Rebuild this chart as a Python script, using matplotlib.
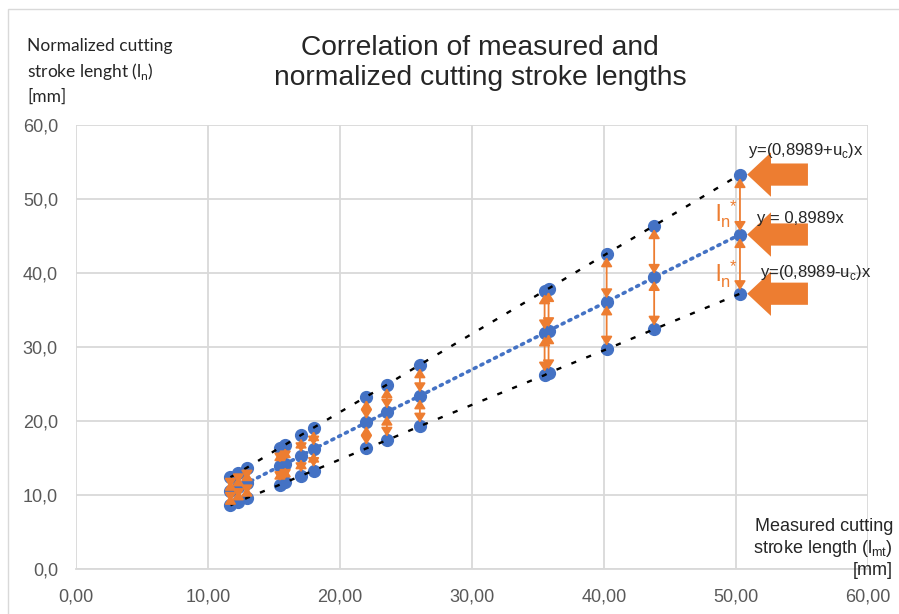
import matplotlib
matplotlib.use('Agg')
import matplotlib.pyplot as plt
from matplotlib.patches import Polygon, Rectangle
from matplotlib.ticker import FuncFormatter

# measured stroke length (x) and the three series
measured = [11.7, 12.3, 12.95, 15.45, 15.85, 17.05, 18.0, 22.0, 23.55, 26.05,
            35.5, 35.8, 40.2, 43.8, 50.3]
upper = [12.4, 13.0, 13.7, 16.4, 16.8, 18.1, 19.1, 23.3, 24.9, 27.6,
         37.6, 37.9, 42.6, 46.4, 53.3]
middle = [10.5, 11.1, 11.6, 13.9, 14.2, 15.3, 16.2, 19.8, 21.2, 23.4,
          31.9, 32.2, 36.1, 39.4, 45.2]
lower = [8.6, 9.1, 9.6, 11.4, 11.7, 12.6, 13.3, 16.3, 17.4, 19.3,
         26.2, 26.5, 29.7, 32.4, 37.2]

x_ticks = [0, 10, 20, 30, 40, 50, 60]
y_ticks = [0, 10, 20, 30, 40, 50, 60]
eq_labels = ['y=(0,8989+u$_\\mathregular{c}$)x', 'y = 0,8989x',
             'y=(0,8989-u$_\\mathregular{c}$)x']

BLUE = '#4472C4'
ORANGE = '#ED7D31'
GRID = '#D9D9D9'
TXT = '#595959'

W, H = 899, 614
fig = plt.figure(figsize=(W / 100, H / 100), dpi=100)
ax = fig.add_axes([76 / W, 45 / H, 792 / W, 444 / H])

# chart area border (Excel style)
fig.patches.append(Rectangle((8 / W, -0.1), 1.2, 1 - 9 / H + 0.1, transform=fig.transFigure,
                             fill=False, edgecolor='#D9D9D9', lw=1.0))

ax.set_xlim(0, 60)
ax.set_ylim(0, 60)
ax.set_xticks(x_ticks)
ax.set_yticks(y_ticks)
ax.xaxis.set_major_formatter(FuncFormatter(lambda v, p: f'{v:.2f}'.replace('.', ',')))
ax.yaxis.set_major_formatter(FuncFormatter(lambda v, p: f'{v:.1f}'.replace('.', ',')))
ax.grid(True, color=GRID, lw=1.3)
ax.set_axisbelow(True)
for s in ['top', 'right', 'left']:
    ax.spines[s].set_visible(False)
ax.spines['bottom'].set_color(GRID)
ax.spines['bottom'].set_linewidth(1.3)
ax.tick_params(length=0, labelsize=13, labelcolor=TXT)
ax.tick_params(axis='x', pad=14)
ax.tick_params(axis='y', pad=13)
for lab in ax.get_xticklabels() + ax.get_yticklabels():
    lab.set_fontfamily('Liberation Sans')

# markers
for ys in (upper, middle, lower):
    ax.plot(measured, ys, 'o', color=BLUE, ms=8.5, zorder=3, clip_on=False)

# trend lines
ax.plot(measured, middle, color=BLUE, lw=2.6, linestyle=(0, (0.6, 1.5)),
        dash_capstyle='round', zorder=4)
for ys in (upper, lower):
    ax.plot(measured, ys, color='black', lw=1.7, linestyle=(0, (2.2, 4.6)), zorder=4)

# double arrows between the series
arrow_kw = dict(arrowstyle='<|-|>,head_length=0.45,head_width=0.28', color=ORANGE,
                lw=1.3, mutation_scale=12, shrinkA=2.5, shrinkB=2.5)
for x, u, m, l in zip(measured, upper, middle, lower):
    ax.annotate('', xy=(x, u), xytext=(x, m), arrowprops=arrow_kw, zorder=5)
    ax.annotate('', xy=(x, m), xytext=(x, l), arrowprops=arrow_kw, zorder=5)

# big block arrows pointing to the last points
x_last = measured[-1]
for y in (upper[-1], middle[-1], lower[-1]):
    tip = x_last + 0.55
    base = tip + 1.8
    end = tip + 4.6
    verts = [(tip, y), (base, y + 3.0), (base, y + 1.5), (end, y + 1.5),
             (end, y - 1.5), (base, y - 1.5), (base, y - 3.0)]
    ax.add_patch(Polygon(verts, closed=True, color=ORANGE, zorder=6, lw=0))

eq_pos = [(50.9, 56.6), (51.6, 47.4), (51.8, 40.1)]
for (tx, ty), s in zip(eq_pos, eq_labels):
    ax.text(tx, ty, s, fontsize=12, color='#262626', va='center', ha='left',
            family='Liberation Sans', zorder=7)

# l_n* labels
for ty in (48.0, 39.9):
    ax.text(48.4, ty, '$\\mathregular{l_n^{\\ *}}$', fontsize=17, color=ORANGE,
            ha='left', va='center', family='Liberation Sans', zorder=7)

fig.text(480 / W, 1 - 35 / H, 'Correlation of measured and\nnormalized cutting stroke lengths',
         ha='center', va='top', fontsize=20.3, family='Liberation Sans',
         color='#262626', linespacing=1.2)

fig.text(27 / W, 1 - 38 / H, 'Normalized cutting\nstroke lenght (l$_\\mathregular{n}$)\n[mm]',
         ha='left', va='top', fontsize=12.5, family='Lato', color='#262626',
         linespacing=1.45)

fig.text(893 / W, 1 - 518 / H, 'Measured cutting\nstroke length (l$_\\mathregular{mt}$)\n[mm]',
         ha='right', va='top', fontsize=13, family='Liberation Sans', color='#262626',
         linespacing=1.2, multialignment='right')

fig.savefig('out.png', dpi=100)
